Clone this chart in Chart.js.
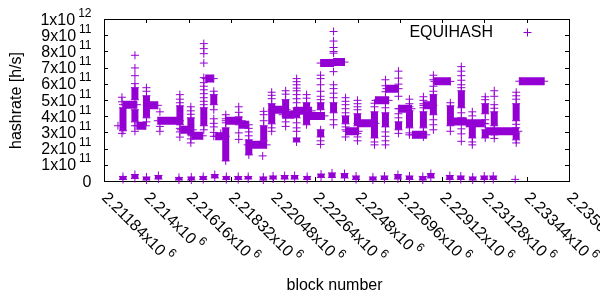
<!DOCTYPE html>
<html>
<head>
<meta charset="utf-8">
<script src="https://cdn.jsdelivr.net/npm/chart.js@4.4.1/dist/chart.umd.min.js"></script>
<style>
  html, body { margin: 0; padding: 0; background: #fff; }
</style>
</head>
<body>
<canvas id="chart" width="600" height="300"></canvas>
<script>
// ---------- axes ----------
const blockTicks = [2211840, 2214000, 2216160, 2218320, 2220480, 2222640, 2224800, 2226960, 2229120, 2231280, 2233440, 2235600];
const blockTickText = ['2.21184', '2.214', '2.21616', '2.21832', '2.22048', '2.22264', '2.2248', '2.22696', '2.22912', '2.23128', '2.23344', '2.2356'];
const rateTicks = [0, 1e11, 2e11, 3e11, 4e11, 5e11, 6e11, 7e11, 8e11, 9e11, 1e12];
const rateTickText = ['0', '1', '2', '3', '4', '5', '6', '7', '8', '9', '1'];
const rateTickExp = ['', '11', '11', '11', '11', '11', '11', '11', '11', '11', '12'];

// ---------- EQUIHASH hashrate per block ----------
// long flat stretches (block from, block to, h/s)
const runStart = [2212810, 2213520, 2214030, 2214590, 2215770, 2216330, 2217040, 2217550, 2218060, 2218730, 2219180, 2220410, 2220970, 2221580, 2222300, 2222910, 2223570, 2224230, 2224790, 2225710, 2226270, 2226940, 2227600, 2228160, 2228720, 2229590, 2230350, 2231370, 2233060];
const runEnd   = [2213520, 2213980, 2214590, 2215720, 2216380, 2216890, 2217450, 2218060, 2218880, 2219240, 2220150, 2221170, 2221530, 2222450, 2223110, 2223570, 2224130, 2224850, 2225710, 2226380, 2226890, 2227550, 2228310, 2228670, 2229540, 2230350, 2231270, 2233010, 2234330];
const runRate  = [4.71e11, 3.41e11, 4.67e11, 3.72e11, 3.16e11, 2.79e11, 6.32e11, 2.76e11, 3.72e11, 3.47e11, 2.23e11, 4.40e11, 4.09e11, 4.33e11, 4.02e11, 7.28e11, 7.34e11, 3.07e11, 3.56e11, 4.98e11, 5.70e11, 4.46e11, 2.85e11, 4.67e11, 6.15e11, 3.68e11, 3.56e11, 3.07e11, 6.16e11];

// dense stacks of points at one block (block, top h/s, bottom h/s)
const colBlock  = [2212810, 2213420, 2213420, 2214010, 2215720, 2216280, 2216940, 2217450, 2218060, 2219240, 2220000, 2220410, 2221120, 2221680, 2221680, 2222190, 2222910, 2222910, 2223570, 2224180, 2224790, 2225660, 2226220, 2226890, 2227450, 2228160, 2228670, 2229540, 2230100, 2230660, 2231320, 2231320, 2231780, 2232900, 2232900];
const colTop    = [4.52e11, 5.76e11, 4.40e11, 5.26e11, 4.64e11, 3.90e11, 4.52e11, 5.33e11, 3.28e11, 2.54e11, 3.41e11, 4.77e11, 5.02e11, 4.52e11, 2.66e11, 4.83e11, 4.83e11, 3.16e11, 4.83e11, 4.02e11, 4.15e11, 4.27e11, 4.21e11, 3.65e11, 4.33e11, 4.27e11, 5.33e11, 4.64e11, 5.57e11, 3.65e11, 4.77e11, 3.16e11, 4.27e11, 4.77e11, 2.97e11];
const colBottom = [3.10e11, 5.02e11, 3.65e11, 3.90e11, 3.47e11, 2.85e11, 3.41e11, 4.71e11, 1.24e11, 1.61e11, 2.48e11, 3.53e11, 3.96e11, 3.90e11, 2.41e11, 3.47e11, 4.40e11, 2.72e11, 4.21e11, 3.53e11, 3.41e11, 2.66e11, 3.34e11, 3.16e11, 3.28e11, 3.28e11, 4.09e11, 3.41e11, 4.52e11, 2.66e11, 4.15e11, 2.66e11, 3.41e11, 3.72e11, 2.54e11];

// small clusters just above zero
const floorBlock  = [2212810, 2213420, 2214010, 2214620, 2215670, 2216300, 2216910, 2217500, 2218090, 2218700, 2219210, 2219980, 2220480, 2221070, 2221580, 2222220, 2222930, 2223490, 2224130, 2224720, 2225580, 2226170, 2226860, 2227450, 2228130, 2228540, 2229510, 2230070, 2230680, 2231270, 2231730];
const floorTop    = [0.28e11, 0.40e11, 0.25e11, 0.34e11, 0.22e11, 0.25e11, 0.28e11, 0.40e11, 0.28e11, 0.28e11, 0.28e11, 0.25e11, 0.31e11, 0.34e11, 0.34e11, 0.28e11, 0.43e11, 0.50e11, 0.46e11, 0.31e11, 0.25e11, 0.31e11, 0.40e11, 0.31e11, 0.28e11, 0.46e11, 0.34e11, 0.31e11, 0.25e11, 0.31e11, 0.31e11];
const floorBottom = [0.09e11, 0.15e11, 0.06e11, 0.12e11, 0.06e11, 0.06e11, 0.09e11, 0.19e11, 0.09e11, 0.09e11, 0.12e11, 0.06e11, 0.12e11, 0.12e11, 0.12e11, 0.09e11, 0.22e11, 0.22e11, 0.19e11, 0.09e11, 0.06e11, 0.09e11, 0.12e11, 0.09e11, 0.06e11, 0.19e11, 0.09e11, 0.09e11, 0.06e11, 0.09e11, 0.09e11];

// scattered single points (block, list of h/s)
const spikeBlock = [2212554, 2212758, 2213421, 2214008, 2214696, 2215716, 2216277, 2216940, 2217450, 2217807, 2218062, 2218725, 2219235, 2219949, 2220000, 2220408, 2221122, 2221683, 2222193, 2222907, 2223570, 2224182, 2224794, 2225661, 2226222, 2226885, 2227446, 2228160, 2228670, 2229537, 2230098, 2230659, 2231322, 2231781, 2232903, 2232852];
const spikeRates = [
  [3.41e11],
  [5.17e11, 4.89e11, 2.94e11],
  [7.76e11, 6.98e11, 6.50e11, 6.01e11, 3.41e11, 3.07e11],
  [5.76e11, 5.54e11, 3.65e11],
  [4.27e11, 3.37e11, 3.07e11],
  [5.33e11, 5.05e11, 4.83e11, 3.25e11, 3.03e11, 2.71e11],
  [4.58e11, 4.33e11, 4.12e11, 2.60e11, 2.35e11],
  [8.48e11, 8.17e11, 7.86e11, 7.28e11, 6.38e11, 6.07e11, 5.85e11, 5.63e11, 5.39e11, 5.14e11, 4.92e11, 4.71e11, 3.16e11],
  [5.54e11, 4.40e11, 3.84e11, 3.56e11, 3.34e11, 3.00e11, 2.76e11],
  [2.94e11],
  [4.09e11, 3.84e11, 3.59e11],
  [4.58e11, 4.24e11, 3.96e11, 2.97e11, 2.57e11],
  [3.25e11, 3.03e11, 2.79e11],
  [1.55e11],
  [4.30e11, 4.09e11, 3.72e11],
  [5.48e11, 5.29e11, 5.08e11, 3.28e11, 3.07e11],
  [5.57e11, 5.36e11, 3.65e11, 3.37e11],
  [6.32e11, 6.13e11, 5.94e11, 5.73e11, 5.57e11, 5.33e11, 5.08e11, 4.83e11, 3.59e11, 3.28e11, 3.07e11],
  [5.33e11, 5.11e11],
  [6.53e11, 6.32e11, 5.94e11, 5.54e11, 5.23e11, 5.02e11, 2.48e11, 2.26e11],
  [9.23e11, 8.64e11, 8.24e11, 7.99e11, 7.89e11, 6.75e11, 5.94e11, 5.70e11, 5.42e11, 5.14e11, 3.78e11, 3.47e11],
  [5.14e11, 4.92e11, 4.71e11, 4.46e11, 4.21e11, 3.34e11, 3.16e11, 2.72e11],
  [4.98e11, 4.77e11, 4.58e11, 4.40e11, 2.94e11, 2.72e11, 2.48e11],
  [4.80e11, 4.58e11, 2.41e11, 2.23e11],
  [6.25e11, 5.88e11, 5.51e11, 5.14e11, 4.83e11, 4.52e11, 3.03e11, 2.76e11, 2.48e11, 2.23e11],
  [6.78e11, 6.35e11, 5.98e11, 5.23e11, 4.46e11, 4.15e11, 3.90e11, 2.94e11],
  [5.05e11, 4.77e11, 4.58e11, 2.97e11, 2.85e11],
  [5.20e11, 4.98e11, 4.77e11, 4.52e11, 2.97e11, 2.72e11],
  [6.53e11, 6.25e11, 5.85e11, 5.54e11, 3.78e11, 3.47e11, 3.16e11],
  [4.83e11, 3.07e11],
  [7.06e11, 6.78e11, 6.50e11, 6.22e11, 5.94e11, 5.76e11, 4.21e11, 3.90e11, 3.22e11, 2.91e11, 2.45e11],
  [4.27e11, 4.02e11, 2.41e11, 2.23e11],
  [5.20e11, 5.02e11, 3.78e11, 3.53e11],
  [5.57e11, 5.23e11, 4.71e11, 4.49e11, 3.25e11, 2.85e11, 2.63e11],
  [5.48e11, 5.26e11, 5.05e11, 3.50e11, 3.28e11, 2.35e11],
  [0.10e11]
];

// ---------- look ----------
const purple = '#9400d3';
const ink = '#000';
const face = '"Liberation Sans", Arial, sans-serif';

// build line data with gaps between pieces
const runData = [];
runStart.forEach((b, i) => {
  runData.push({ x: b, y: runRate[i] }, { x: runEnd[i], y: runRate[i] }, { x: runEnd[i], y: null });
});
const colData = [];
colBlock.forEach((b, i) => {
  colData.push({ x: b, y: colTop[i] }, { x: b, y: colBottom[i] }, { x: b, y: null });
});
floorBlock.forEach((b, i) => {
  colData.push({ x: b, y: floorTop[i] }, { x: b, y: floorBottom[i] }, { x: b, y: null });
});
const dotData = [];
spikeBlock.forEach((b, i) => {
  spikeRates[i].forEach(r => dotData.push({ x: b, y: r }));
});

const bandStyle = {
  showLine: true,
  borderColor: purple,
  borderWidth: 8,
  borderCapStyle: 'butt',
  spanGaps: false,
  pointStyle: 'cross',
  pointRadius: 4,
  pointBorderWidth: 1,
  pointBorderColor: purple,
  pointBackgroundColor: purple,
  clip: false
};

// gnuplot style frame, tics, labels and key
const gnuplotFrame = {
  id: 'gnuplotFrame',
  beforeDatasetsDraw(chart) {
    const { ctx, chartArea: a, scales: { x, y } } = chart;
    ctx.save();
    ctx.strokeStyle = ink;
    ctx.lineWidth = 1;
    ctx.strokeRect(a.left + 0.5, a.top + 0.5, a.right - a.left, a.bottom - a.top);

    ctx.beginPath();
    blockTicks.forEach(v => {
      const px = Math.round(x.getPixelForValue(v)) + 0.5;
      ctx.moveTo(px, a.bottom); ctx.lineTo(px, a.bottom - 4);
      ctx.moveTo(px, a.top); ctx.lineTo(px, a.top + 4);
    });
    rateTicks.forEach(v => {
      const py = Math.round(y.getPixelForValue(v)) + 0.5;
      ctx.moveTo(a.left, py); ctx.lineTo(a.left + 4, py);
      ctx.moveTo(a.right, py); ctx.lineTo(a.right - 4, py);
    });
    ctx.stroke();

    ctx.fillStyle = ink;
    ctx.textBaseline = 'alphabetic';

    // y tick labels, e.g. 4x10^11
    rateTicks.forEach((v, i) => {
      const py = y.getPixelForValue(v);
      const right = 91.5;
      if (rateTickExp[i]) {
        ctx.font = '12px ' + face;
        const sw = ctx.measureText(rateTickExp[i]).width;
        ctx.textAlign = 'left';
        ctx.fillText(rateTickExp[i], right - sw, py - 2.5);
        ctx.font = '16px ' + face;
        ctx.textAlign = 'right';
        ctx.fillText(rateTickText[i] + 'x10', right - sw - 3, py + 5.5);
      } else {
        ctx.font = '16px ' + face;
        ctx.textAlign = 'right';
        ctx.fillText(rateTickText[i], right, py + 5.5);
      }
    });

    // x tick labels, turned 45 degrees clockwise
    blockTicks.forEach((v, i) => {
      const px = x.getPixelForValue(v);
      ctx.save();
      ctx.translate(px + 1, a.bottom + 13.5);
      ctx.rotate(Math.PI / 4);
      ctx.textAlign = 'left';
      ctx.font = '16px ' + face;
      const main = blockTickText[i] + 'x10';
      ctx.fillText(main, 0, 5.5);
      const w = ctx.measureText(main).width;
      ctx.font = '12px ' + face;
      ctx.fillText('6', w + 3, -2.5);
      ctx.restore();
    });

    // axis titles
    ctx.font = '16px ' + face;
    ctx.textAlign = 'center';
    ctx.fillText('block number', 334.5, 290);
    ctx.save();
    ctx.translate(21, 100.5);
    ctx.rotate(-Math.PI / 2);
    ctx.fillText('hashrate [h/s]', 0, 0);
    ctx.restore();

    // key
    ctx.textAlign = 'right';
    ctx.fillText('EQUIHASH', 493, 37);
    ctx.strokeStyle = purple;
    ctx.beginPath();
    ctx.moveTo(523.5, 32.5); ctx.lineTo(531.5, 32.5);
    ctx.moveTo(527.5, 28.5); ctx.lineTo(527.5, 36.5);
    ctx.stroke();
    ctx.restore();
  }
};

new Chart(document.getElementById('chart'), {
  type: 'scatter',
  data: {
    datasets: [
      Object.assign({ label: 'EQUIHASH runs', data: runData }, bandStyle),
      Object.assign({ label: 'EQUIHASH stacks', data: colData }, bandStyle, { borderWidth: 7 }),
      {
        label: 'EQUIHASH',
        data: dotData,
        showLine: false,
        pointStyle: 'cross',
        pointRadius: 4,
        borderWidth: 1,
        borderColor: purple,
        backgroundColor: purple,
        clip: false
      }
    ]
  },
  options: {
    responsive: false,
    animation: false,
    devicePixelRatio: 1,
    layout: { padding: { left: 104, top: 19, right: 31, bottom: 119 } },
    plugins: { legend: { display: false }, tooltip: { enabled: false } },
    scales: {
      x: { type: 'linear', display: false, min: 2211840, max: 2235600 },
      y: { type: 'linear', display: false, min: 0, max: 1e12 }
    }
  },
  plugins: [gnuplotFrame]
});
</script>
</body>
</html>
